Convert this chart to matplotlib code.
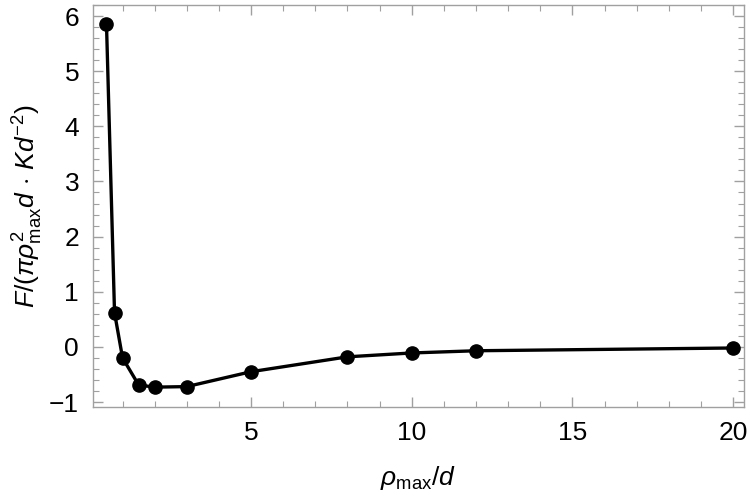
import numpy as np
import matplotlib.pyplot as plt
from matplotlib.ticker import MultipleLocator

plt.rcParams['font.family'] = 'Liberation Sans'
plt.rcParams['mathtext.fontset'] = 'custom'
plt.rcParams['mathtext.rm'] = 'Liberation Sans'
plt.rcParams['mathtext.it'] = 'Liberation Sans:italic'
plt.rcParams['mathtext.bf'] = 'Liberation Sans:bold'
plt.rcParams['font.size'] = 19
plt.rcParams['xtick.direction'] = 'in'
plt.rcParams['ytick.direction'] = 'in'
plt.rcParams['xtick.top'] = True
plt.rcParams['ytick.right'] = True

rho_max = [0.5, 0.75, 1, 1.5, 2, 3, 5, 8, 10, 12, 20]
F_scaled = [5.85, 0.62, -0.2, -0.69, -0.73, -0.72, -0.45, -0.18, -0.11, -0.07, -0.02]

fig = plt.figure(figsize=(7.5, 4.96), dpi=100)
ax = fig.add_axes([93/750, 1-407/496, (744-93)/750, (407-5)/496])

ax.plot(rho_max, F_scaled, color='black', lw=2.4, marker='o', ms=9.5, clip_on=False, zorder=3)

ax.set_xlim(0.08, 20.34)
ax.set_ylim(-1.09, 6.2)
ax.set_xticks([5, 10, 15, 20])
ax.set_yticks(np.arange(-1, 7, 1))
ax.set_yticklabels(['\u22121', '0', '1', '2', '3', '4', '5', '6'])
ax.xaxis.set_minor_locator(MultipleLocator(1))
ax.yaxis.set_minor_locator(MultipleLocator(0.2))

frame_col = '#a0a0a0'
for s in ax.spines.values():
    s.set_color(frame_col)
    s.set_linewidth(1.0)
ax.tick_params(which='major', length=7, width=1.0, color=frame_col, labelcolor='black', pad=10)
ax.tick_params(which='minor', length=4, width=0.8, color=frame_col)

ax.set_xlabel(r'$\rho_{\rm max}/d$', fontsize=19, labelpad=14)
ax.set_ylabel(r'$F/(\pi\rho^{2}_{\rm max}d\,\cdot\,Kd^{-2})$', fontsize=19, labelpad=3)

fig.savefig('out.png', dpi=100)
